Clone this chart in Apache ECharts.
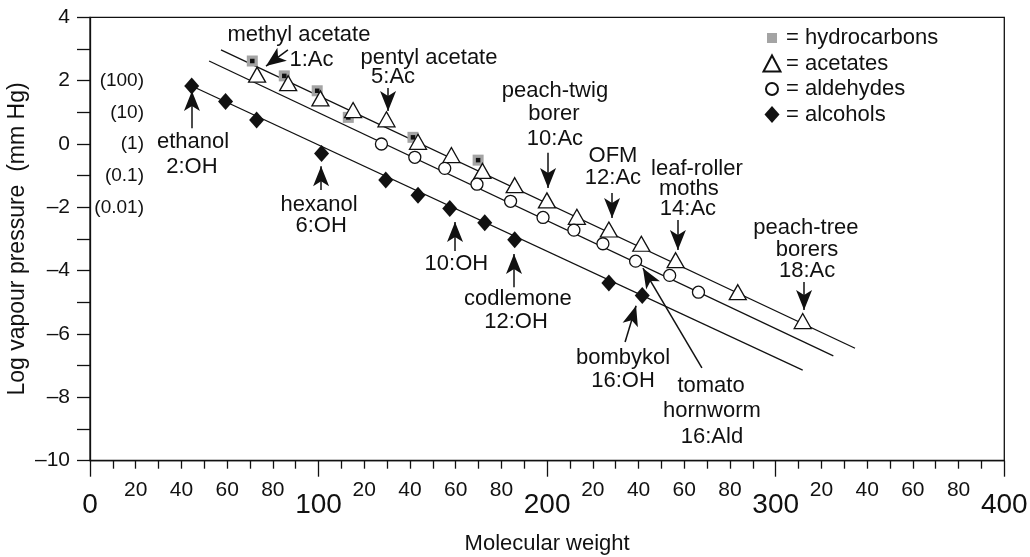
<!DOCTYPE html>
<html><head><meta charset="utf-8">
<script src="https://cdn.jsdelivr.net/npm/echarts@6.0.0/dist/echarts.min.js"></script>
<style>html,body{margin:0;padding:0;background:#fff}#c{width:1030px;height:557px}</style>
</head><body><div id="c"></div>
<script>
// ---- data (molecular weight, log vapour pressure) ----
const hydrocarbons = [[71,2.62],[85,2.15],[99.4,1.68],[113,0.84],[141.3,0.21],[169.8,-0.51]];
const acetates = [[73.1,2.19],[86.7,1.92],[100.8,1.44],[115.1,1.07],[129.7,0.78],[143.5,0.07],[158.1,-0.35],[171.7,-0.85],[185.8,-1.30],[199.9,-1.78],[213,-2.30],[227,-2.70],[241.2,-3.15],[256.2,-3.67],[283.4,-4.68],[311.8,-5.59]];
const aldehydes = [[127.5,0.0],[142.1,-0.42],[155.2,-0.77],[169.3,-1.27],[184,-1.81],[198.2,-2.32],[211.7,-2.72],[224.4,-3.15],[238.7,-3.70],[253.6,-4.15],[266.2,-4.68]];
const alcohols = [[44.5,1.83],[59.3,1.34],[72.9,0.76],[101.3,-0.30],[129.4,-1.14],[143.5,-1.62],[157.4,-2.04],[172.7,-2.49],[185.8,-3.02],[227,-4.39],[241.6,-4.78]];
const fitAcetates = [[57.3,2.97],[334.7,-6.45]];
const fitAldehydes = [[52.1,2.62],[325.2,-6.69]];
const fitAlcohols = [[44.5,1.83],[311.8,-7.14]];

// ---- tick labels ----
const yTickValues = [-10,-8,-6,-4,-2,0,2,4];
const yTickLabels = ['\u201310','\u20138','\u20136','\u20134','\u20132','0','2','4'];
const pressureValues = [2,1,0,-1,-2];
const pressureLabels = ['(100)','(10)','(1)','(0.1)','(0.01)'];
const xMajorValues = [0,100,200,300,400];
const xMajorLabels = ['0','100','200','300','400'];
const xMinorLabels = {20:'20',40:'40',60:'60',80:'80'};

// ---- annotations (text at data coords, arrows tail->tip) ----
const annotationTexts = [
  ['methyl acetate',91.4,3.44],['1:Ac',96.9,2.65],
  ['pentyl acetate',148.3,2.71],['5:Ac',132.6,2.11],
  ['ethanol',45.1,0.05],['2:OH',44.6,-0.73],
  ['hexanol',100.2,-1.92],['6:OH',101.1,-2.58],
  ['10:OH',160.3,-3.78],
  ['codlemone',187.2,-4.88],['12:OH',186.4,-5.61],
  ['bombykol',233.2,-6.75],['16:OH',233.2,-7.47],
  ['tomato',271.7,-7.63],['hornworm',272.1,-8.42],['16:Ald',272.1,-9.24],
  ['peach-twig',203.4,1.68],['borer',203.0,0.96],['10:Ac',203.4,0.17],
  ['OFM',228.8,-0.37],['12:Ac',228.8,-1.06],
  ['leaf-roller',265.5,-0.78],['moths',262.0,-1.41],['14:Ac',261.6,-2.04],
  ['peach-tree',313.2,-2.64],['borers',313.7,-3.34],['18:Ac',313.7,-4.0]
];
const annotationArrows = [
  [[86.6,2.97],[77.0,2.46]],
  [[130.4,1.77],[130.4,1.04]],
  [[44.6,0.50],[44.6,1.67]],
  [[101.1,-1.45],[101.1,-0.70]],
  [[159.7,-3.38],[159.7,-2.46]],
  [[185.5,-4.52],[185.5,-3.47]],
  [[234.1,-6.25],[238.9,-5.11]],
  [[267.7,-7.07],[241.9,-3.92]],
  [[200.4,-0.28],[200.4,-1.39]],
  [[228.4,-1.55],[228.4,-2.34]],
  [[257.2,-2.40],[257.2,-3.35]],
  [[312.4,-4.36],[312.4,-5.24]]
];

const FONT = 'Liberation Sans, Arial, Helvetica, sans-serif';
const INK = '#111';
const yLabelMap = {}; yTickValues.forEach((v,i)=>yLabelMap[v]=yTickLabels[i]);
const pLabelMap = {}; pressureValues.forEach((v,i)=>pLabelMap[v]=pressureLabels[i]);
const xMajorMap = {}; xMajorValues.forEach((v,i)=>xMajorMap[v]=xMajorLabels[i]);

const chart = echarts.init(document.getElementById('c'), null, {renderer:'canvas'});
const axisLine = {show:true, onZero:false, lineStyle:{color:INK, width:1.3}};
const option = {
  animation:false,
  backgroundColor:'#fff',
  textStyle:{fontFamily:FONT},
  grid:{left:90, right:25.7, top:17.3, bottom:96.3, show:true, borderColor:INK, borderWidth:1.3, outerBoundsMode:'none', containLabel:false},
  legend:{
    orient:'vertical', left:757, top:22, itemWidth:18, itemHeight:18, itemGap:3.5,
    formatter:'= {name}', selectedMode:false,
    textStyle:{fontSize:22, color:INK, fontFamily:FONT, lineHeight:22},
    data:[
      {name:'hydrocarbons', icon:'path://M0,0M18,18M4,4h10v10h-10z'},
      {name:'acetates', icon:'path://M0,0M18,18M9,1L17.5,17H0.5Z'},
      {name:'aldehydes', icon:'path://M0,0M18,18M9,3A6,6 0 1,1 8.99,3Z'},
      {name:'alcohols', icon:'path://M0,0M18,18M9,0.5L16.5,9L9,17.5L1.5,9Z'}
    ]
  },
  xAxis:[
    {type:'value', min:0, max:400, interval:100, position:'bottom',
     name:'Molecular weight', nameLocation:'middle', nameGap:72, nameMoveOverlap:false,
     nameTextStyle:{fontSize:22, color:INK, fontFamily:FONT},
     axisLine:axisLine, splitLine:{show:false},
     axisTick:{show:true, length:16, lineStyle:{color:INK, width:1.3}},
     minorTick:{show:true, splitNumber:10, length:8, lineStyle:{color:INK, width:1.3}},
     axisLabel:{show:false}},
    {type:'value', min:0, max:400, interval:20, position:'bottom',
     axisLine:{show:false, onZero:false}, axisTick:{show:false}, splitLine:{show:false},
     axisLabel:{show:true, margin:19, hideOverlap:false, showMinLabel:true, showMaxLabel:true,
       formatter:v=> (v%100===0) ? '{big|'+xMajorMap[v]+'}' : '{small|'+xMinorLabels[v%100]+'}',
       rich:{small:{fontSize:21, lineHeight:21, color:INK, fontFamily:FONT},
             big:{fontSize:28, lineHeight:28, color:INK, fontFamily:FONT, padding:[24,0,0,0]}}}}
  ],
  yAxis:[
    {type:'value', min:-10, max:4, interval:2,
     name:'Log vapour pressure  (mm Hg)', nameLocation:'middle', nameGap:61, nameMoveOverlap:false,
     nameTextStyle:{fontSize:23, color:INK, fontFamily:FONT},
     axisLine:axisLine, splitLine:{show:false},
     axisTick:{show:true, length:13, lineStyle:{color:INK, width:1.3}},
     minorTick:{show:true, splitNumber:2, length:13, lineStyle:{color:INK, width:1.3}},
     axisLabel:{margin:20, fontSize:21, color:INK, fontFamily:FONT, hideOverlap:false, showMinLabel:true, showMaxLabel:true,
       formatter:v=> yLabelMap[v] ?? ''}},
    {type:'value', min:-10, max:4, interval:1, position:'left',
     axisLine:{show:false, onZero:false}, axisTick:{show:false}, splitLine:{show:false},
     axisLabel:{inside:true, margin:54, align:'right', fontSize:19, color:INK, fontFamily:FONT, hideOverlap:false,
       formatter:v=> pLabelMap[v] ?? ''}}
  ],
  series:[
    {type:'line', data:fitAcetates, symbol:'none', silent:true, lineStyle:{color:INK, width:1.3}, z:1},
    {type:'line', data:fitAldehydes, symbol:'none', silent:true, lineStyle:{color:INK, width:1.3}, z:1},
    {type:'line', data:fitAlcohols, symbol:'none', silent:true, lineStyle:{color:INK, width:1.3}, z:1},
    {name:'hydrocarbons', type:'scatter', data:hydrocarbons, symbol:'rect', symbolSize:11,
     itemStyle:{color:'#a4a4a4', opacity:1}, z:2},
    {name:'hc-dot', type:'scatter', data:hydrocarbons, symbol:'rect', symbolSize:4.5,
     itemStyle:{color:'#111', opacity:1}, z:3},
    {name:'acetates', type:'scatter', data:acetates, symbol:'triangle', symbolSize:[17,15],
     itemStyle:{color:'#fff', borderColor:INK, borderWidth:1.3, opacity:1}, z:4},
    {name:'aldehydes', type:'scatter', data:aldehydes, symbol:'circle', symbolSize:12,
     itemStyle:{color:'#fff', borderColor:INK, borderWidth:1.3, opacity:1}, z:4},
    {name:'alcohols', type:'scatter', data:alcohols, symbol:'diamond', symbolSize:[15,17],
     itemStyle:{color:INK, opacity:1}, z:5},
    {name:'annot', type:'scatter', silent:true, z:6, symbol:'circle', symbolSize:1,
     itemStyle:{color:'rgba(0,0,0,0)', opacity:1},
     label:{show:true, position:'inside', formatter:'{b}', fontSize:22, color:INK, fontFamily:FONT},
     data:annotationTexts.map(t=>({name:t[0], value:[t[1],t[2]]})),
     markLine:{silent:true, animation:false, symbol:['none','arrow'], symbolSize:[12,20],
       label:{show:false}, emphasis:{disabled:true},
       lineStyle:{color:INK, width:1.5, type:'solid', opacity:1},
       data:annotationArrows.map(a=>[{coord:a[0]},{coord:a[1]}])}}
  ]
};
chart.setOption(option);
</script></body></html>
